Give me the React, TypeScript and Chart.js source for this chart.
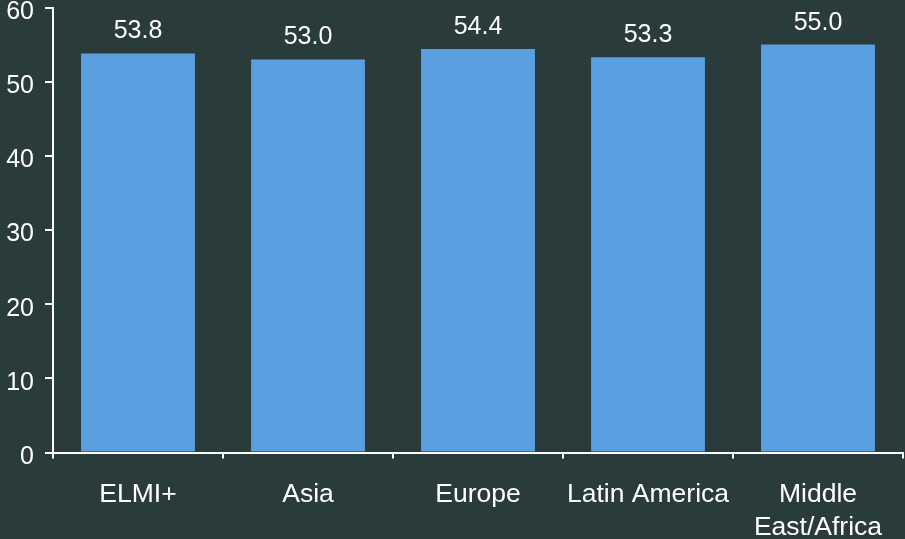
import React, { useEffect, useRef } from "react";
import { Chart, registerables } from "chart.js";

Chart.register(...registerables);

const categories: (string | string[])[] = ["ELMI+", "Asia", "Europe", "Latin America", ["Middle", "East/Africa"]];
const values: number[] = [53.8, 53.0, 54.4, 53.3, 55.0];
const yTicks = { min: 0, max: 60, step: 10 };

const BG = "#293b3b";
const BAR = "#5a9fe0";
const FG = "#ffffff";
const FONT = "'Liberation Sans', Arial, sans-serif";

const valueLabels = {
  id: "valueLabels",
  afterDatasetsDraw(chart: any) {
    const ctx = chart.ctx;
    const meta = chart.getDatasetMeta(0);
    ctx.save();
    ctx.fillStyle = FG;
    ctx.font = `25px ${FONT}`;
    ctx.textAlign = "center";
    ctx.textBaseline = "alphabetic";
    meta.data.forEach((el: any, i: number) => {
      ctx.fillText(values[i].toFixed(1), el.x, el.y - 15);
    });
    ctx.restore();
  },
};

export default function App() {
  const ref = useRef<HTMLCanvasElement | null>(null);
  useEffect(() => {
    if (!ref.current) return;
    const chart = new Chart(ref.current, {
      type: "bar",
      data: {
        labels: categories,
        datasets: [
          {
            data: values,
            backgroundColor: BAR,
            borderWidth: 0,
            categoryPercentage: 1,
            barPercentage: 0.67,
          },
        ],
      },
      options: {
        animation: false,
        responsive: false,
        devicePixelRatio: 1,
        layout: { padding: { top: 7.5, right: 2, left: 0, bottom: 0 } },
        plugins: { legend: { display: false }, tooltip: { enabled: false } },
        scales: {
          x: {
            grid: {
              display: true,
              offset: true,
              drawOnChartArea: false,
              drawTicks: true,
              tickLength: 6,
              color: FG,
              lineWidth: 2,
            },
            border: { display: true, color: FG, width: 2 },
            ticks: {
              color: FG,
              font: { family: FONT, size: 26.5, lineHeight: 1.25 },
              padding: 19.5,
              maxRotation: 0,
              autoSkip: false,
            },
            afterFit: (s: any) => {
              s.height = 539 - 452.5;
              s.paddingLeft = 0;
              s.paddingRight = 0;
            },
          },
          y: {
            min: yTicks.min,
            max: yTicks.max,
            grid: {
              display: true,
              drawOnChartArea: false,
              drawTicks: true,
              tickLength: 8,
              color: FG,
              lineWidth: 2,
            },
            border: { display: true, color: FG, width: 2 },
            ticks: {
              stepSize: yTicks.step,
              color: FG,
              font: { family: FONT, size: 25 },
              padding: 11,
              labelOffset: 4.5,
            },
            afterFit: (s: any) => {
              s.width = 53;
              s.paddingTop = 0;
              s.paddingBottom = 0;
            },
          },
        },
      },
      plugins: [valueLabels],
    });
    return () => chart.destroy();
  }, []);
  return (
    <div style={{ position: "fixed", left: 0, top: 0, width: 905, height: 539, background: BG }}>
      <canvas ref={ref} width={905} height={539} style={{ display: "block", width: 905, height: 539 }} />
    </div>
  );
}
